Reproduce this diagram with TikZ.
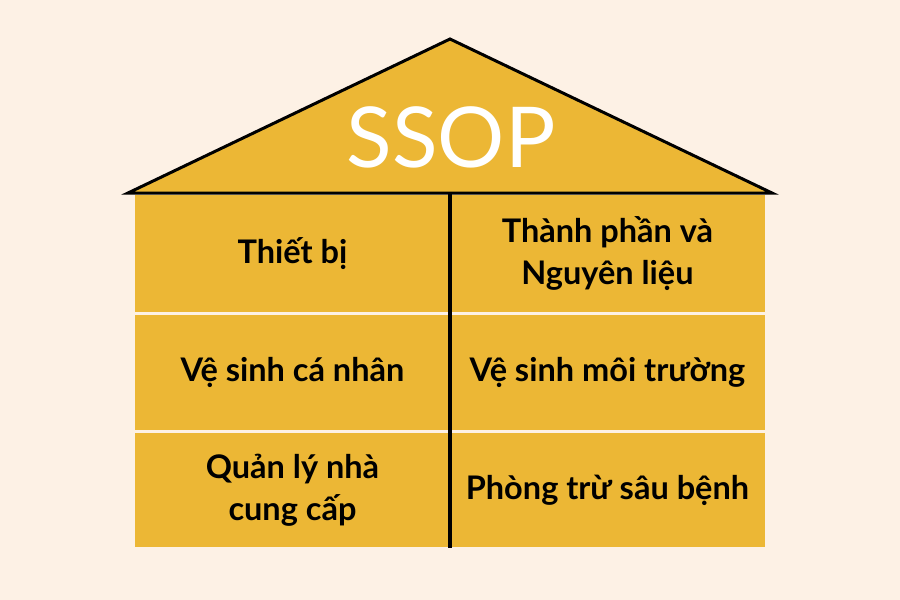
\documentclass[tikz,border=0pt]{standalone}
\usepackage{fontspec}
\setmainfont{Lato}
\definecolor{bgcream}{HTML}{FDF1E5}
\definecolor{ssopyellow}{HTML}{ECB735}
\begin{document}
\begin{tikzpicture}[x=1pt,y=-1pt,
  cell/.style={fill=ssopyellow, minimum width=315pt, inner sep=0pt, align=center,
    font=\fontsize{32.5}{42}\selectfont\bfseries, text=black},
  roofline/.style={line width=3pt, line join=miter, draw=black, fill=ssopyellow},
  divider/.style={line width=4pt, draw=black}]
\useasboundingbox (0,0) rectangle (900,600);
\fill[bgcream] (0,0) rectangle (900,600);
% cells
\node[cell, minimum height=117pt] (c11) at (292.5,253.5) {Thiết bị};
\node[cell, minimum height=117pt] (c12) at (607.5,253.5) {Thành phần và\\Nguyên liệu};
\node[cell, minimum height=115pt] (c21) at (292.5,372.5) {Vệ sinh cá nhân};
\node[cell, minimum height=115pt] (c22) at (607.5,372.5) {Vệ sinh môi trường};
\node[cell, minimum height=114pt] (c31) at (292.5,490) {Quản lý nhà\\cung cấp};
\node[cell, minimum height=114pt] (c32) at (607.5,490) {Phòng trừ sâu bệnh};
% roof
\coordinate (roofL) at (128,193);
\coordinate (roofR) at (772,193);
\coordinate (apex) at (450,39);
\coordinate (divtop) at (450,193);
\coordinate (divbot) at (450,548);
\draw[roofline] (roofL) -- (apex) -- (roofR) -- cycle;
\node[text=white, font=\fontsize{84}{84}\selectfont] (ssop) at (451,137) {SSOP};
\draw[divider] (divtop) -- (divbot);
\end{tikzpicture}
\end{document}
